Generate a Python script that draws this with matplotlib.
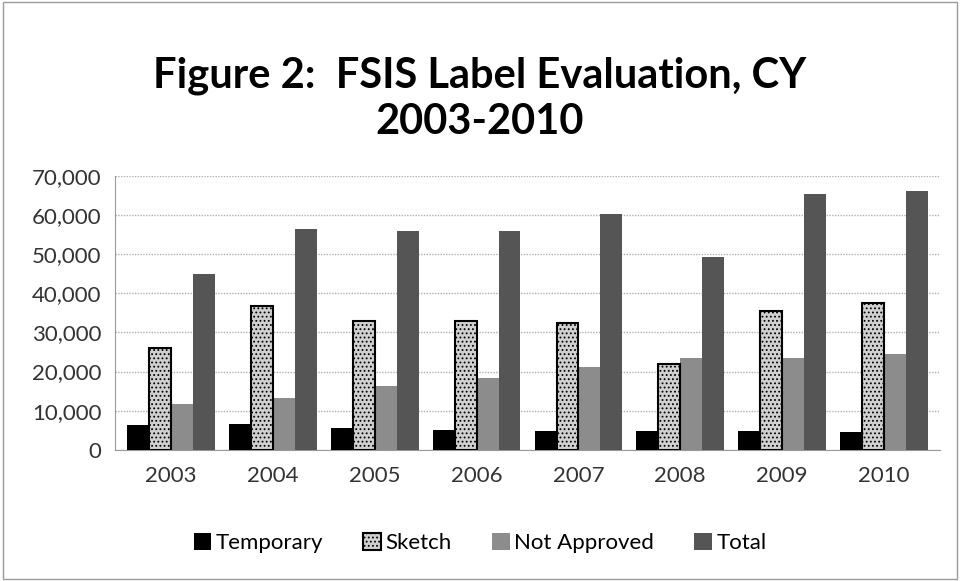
import matplotlib.pyplot as plt
import numpy as np
from matplotlib.patches import Rectangle

years = ['2003', '2004', '2005', '2006', '2007', '2008', '2009', '2010']
temporary = [6200, 6600, 5600, 5100, 4900, 4900, 4900, 4500]
sketch = [25900, 36800, 33000, 33000, 32400, 21800, 35500, 37500]
not_approved = [11600, 13300, 16200, 18400, 21100, 23400, 23400, 24500]
total = [45000, 56400, 55900, 55900, 60200, 49400, 65500, 66100]

series = ['Temporary', 'Sketch', 'Not Approved', 'Total']


def main():
    plt.rcParams['font.family'] = ['Lato', 'DejaVu Sans']
    plt.rcParams['hatch.color'] = '#808080'
    plt.rcParams['hatch.linewidth'] = 0.8

    fig = plt.figure(figsize=(9.6, 5.81), dpi=100)
    fig.patches.append(Rectangle((0.003, 0.003), 0.994, 0.994, transform=fig.transFigure,
                                 fill=False, edgecolor='#9a9a9a', linewidth=1))
    ax = fig.add_axes([0.12, 0.226, 0.859, 0.471])

    x = np.arange(len(years))
    w = 0.215
    ax.bar(x - 1.5 * w, temporary, w, color='black', label=series[0], zorder=3)
    ax.bar(x - 0.5 * w, sketch, w, color='#d0d0d0', edgecolor='black', linewidth=1.5,
           hatch='....', label=series[1], zorder=4)
    ax.bar(x + 0.5 * w, not_approved, w, color='#8c8c8c', label=series[2], zorder=3)
    ax.bar(x + 1.5 * w, total, w, color='#555555', label=series[3], zorder=3)

    ax.set_ylim(0, 70000)
    ax.set_xlim(-0.55, len(years) - 0.45)
    ax.set_yticks(np.arange(0, 70001, 10000))
    ax.set_yticklabels([f'{v:,}' for v in range(0, 70001, 10000)])
    ax.set_xticks(x)
    ax.set_xticklabels(years)
    ax.tick_params(axis='both', labelsize=16, length=0, colors='#333333')
    ax.tick_params(axis='x', pad=12)
    ax.tick_params(axis='y', pad=10)
    ax.grid(axis='y', color='#b0b0b0', linestyle=(0, (1, 1)), linewidth=1, zorder=0)
    for s in ['top', 'right']:
        ax.spines[s].set_visible(False)
    ax.spines['left'].set_color('#999999')
    ax.spines['bottom'].set_color('#999999')

    fig.text(0.5, 0.83, 'Figure 2:  FSIS Label Evaluation, CY\n2003-2010', ha='center', va='center',
             fontsize=30, fontweight='bold', linespacing=1.25)

    fig.legend(loc='center', bbox_to_anchor=(0.5, 0.065), ncol=4, frameon=False, fontsize=16,
               handlelength=0.8, handleheight=0.8, handletextpad=0.2, columnspacing=1.8)

    fig.savefig('out.png', dpi=100)


if __name__ == '__main__':
    main()
